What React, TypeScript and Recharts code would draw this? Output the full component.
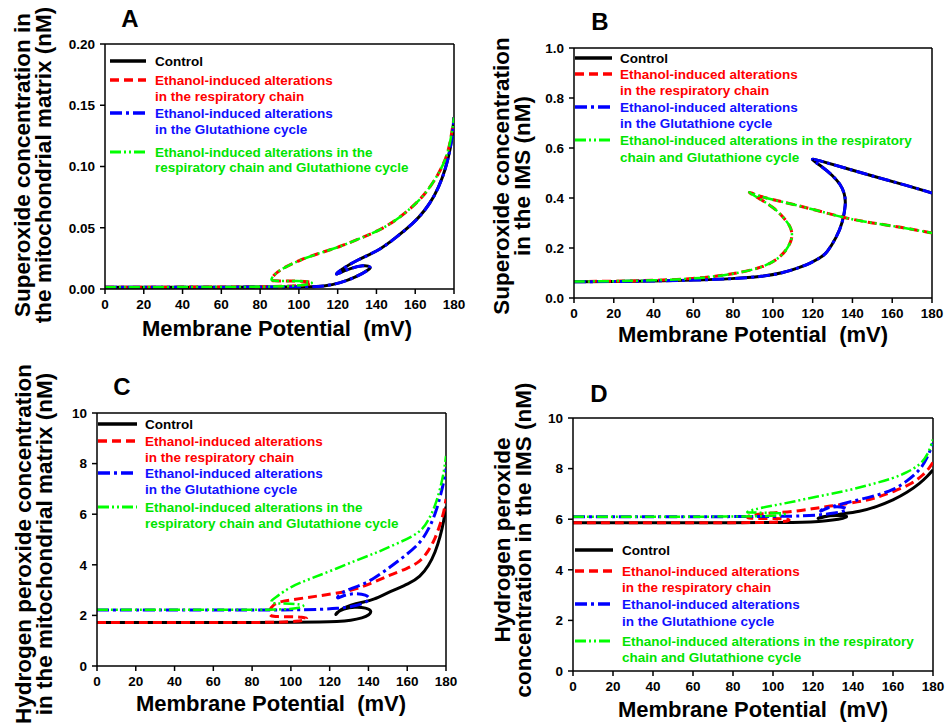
import React from 'react';
import { LineChart, Line, XAxis, YAxis, ReferenceLine } from 'recharts';

type P = [number, number];

const FONT = '"Liberation Sans", Arial, Helvetica, sans-serif';

const xTicks = [0, 20, 40, 60, 80, 100, 120, 140, 160, 180];
const aYTicks = [0, 0.05, 0.1, 0.15, 0.2];
const bYTicks = [0, 0.2, 0.4, 0.6, 0.8, 1.0];
const cYTicks = [0, 2, 4, 6, 8, 10];
const dYTicks = [0, 2, 4, 6, 8, 10];

// Panel A: superoxide in matrix
const aControl: P[] = [[0,0.0015],[30,0.0015],[60,0.0015],[90,0.0016],[105,0.0017],[112.7,0.0022],[121.3,0.0047],[129.9,0.010],[135.9,0.0155],[137.6,0.0182],[133.3,0.0196],[126.5,0.0169],[120.4,0.0128],[118.7,0.0114],[121.3,0.0155],[129.9,0.0237],[141.9,0.0318],[150.6,0.0427],[159.1,0.0536],[165,0.064],[170,0.076],[174,0.09],[177,0.106],[179,0.122],[180,0.14]];
const aRespiratory: P[] = [[0,0.0015],[30,0.0015],[60,0.0016],[85,0.0018],[98,0.0025],[104,0.0035],[107.5,0.0048],[105.5,0.006],[99,0.0066],[92,0.0066],[87,0.0065],[85.2,0.0073],[87.5,0.012],[90.3,0.0155],[95,0.0195],[100.6,0.0237],[110,0.029],[121.3,0.0345],[131,0.041],[141.9,0.048],[152,0.058],[162.6,0.0727],[168,0.084],[172,0.094],[175.5,0.105],[178,0.118],[180,0.14]];
const aGlutathione: P[] = aControl;
const aRespGluta: P[] = aRespiratory;

// Panel B: superoxide in IMS
const bControl: P[] = [[0,0.065],[20,0.066],[40,0.068],[60,0.071],[80,0.077],[95,0.086],[105,0.1],[112,0.118],[118.7,0.138],[124,0.162],[127,0.178],[132.1,0.244],[135,0.3],[136.8,0.378],[136,0.42],[134,0.455],[130,0.49],[125,0.525],[117.6,0.562],[124,0.548],[137.1,0.518],[150,0.488],[163.9,0.458],[180,0.42]];
const bRespiratory: P[] = [[0,0.066],[20,0.067],[40,0.07],[60,0.077],[76.8,0.091],[93.5,0.118],[101.9,0.151],[106.9,0.191],[109.4,0.231],[109.8,0.26],[108.6,0.29],[105,0.325],[100.2,0.364],[93,0.398],[85.6,0.434],[93.5,0.404],[105,0.385],[120,0.355],[137.1,0.318],[150,0.3],[163.9,0.284],[180,0.26]];
const bGlutathione: P[] = bControl;
const bRespGluta: P[] = bRespiratory;

// Panel C: H2O2 in matrix
const cControl: P[] = [[0,1.72],[40,1.72],[80,1.72],[105,1.73],[115,1.74],[124,1.76],[131,1.8],[137,1.9],[140.5,2.02],[141.8,2.18],[139,2.3],[133,2.34],[127,2.26],[123.5,2.12],[122.8,1.97],[125,2.22],[131,2.42],[137,2.52],[142.6,2.61],[151,2.94],[161,3.25],[166.7,3.53],[171,3.95],[174.5,4.5],[177,5.1],[178.8,5.7],[180,6.3]];
const cRespiratory: P[] = [[0,1.72],[40,1.72],[80,1.72],[95,1.73],[103,1.76],[107.5,1.82],[108.7,1.88],[106,1.93],[100,1.95],[93,1.95],[89.3,1.96],[88.5,2.15],[91,2.45],[95,2.55],[99.6,2.61],[108,2.7],[116.6,2.8],[130.6,2.95],[141,3.25],[151,3.6],[160,3.85],[166.7,4.12],[171,4.55],[174.5,5.05],[177,5.6],[179,6.1],[180,6.6]];
const cGlutathione: P[] = [[0,2.21],[40,2.21],[80,2.21],[105,2.22],[115,2.24],[124,2.27],[132,2.35],[138,2.48],[141,2.65],[139,2.82],[133,2.88],[127,2.8],[123.5,2.63],[124.5,2.8],[128,2.98],[134,3.13],[142,3.4],[151,3.9],[158,4.3],[166.7,4.85],[171,5.4],[174.5,6.0],[177,6.7],[179,7.3],[180,7.8]];
const cRespGluta: P[] = [[0,2.22],[40,2.22],[80,2.22],[95,2.23],[102,2.27],[106,2.33],[107,2.4],[103,2.45],[96,2.47],[89.3,2.48],[90,2.6],[92.7,2.74],[99.6,3.13],[110,3.45],[122,3.8],[134,4.19],[145,4.5],[155,4.85],[166.7,5.26],[171,5.75],[174.5,6.35],[177,7.0],[179,7.7],[180,8.3]];

// Panel D: H2O2 in IMS
const dControl: P[] = [[0,5.86],[40,5.86],[80,5.86],[105,5.87],[115,5.88],[123,5.91],[130,5.96],[135.5,6.04],[137.7,6.12],[134,6.16],[128,6.14],[123.5,6.08],[121.8,6.0],[125,6.1],[133,6.2],[143.5,6.3],[152,6.5],[160.2,6.76],[167,7.05],[173.5,7.42],[177.5,7.72],[180,7.95]];
const dRespiratory: P[] = [[0,5.86],[40,5.86],[80,5.86],[95,5.87],[103,5.89],[107.5,5.93],[108.7,5.98],[105,6.02],[98,6.03],[90,6.03],[86.5,6.06],[88,6.14],[92,6.2],[100,6.25],[110,6.3],[120,6.42],[127,6.5],[143.5,6.69],[152,6.85],[160.2,7.09],[170,7.42],[175,7.75],[178,8.0],[180,8.25]];
const dGlutathione: P[] = [[0,6.1],[40,6.1],[80,6.1],[105,6.11],[115,6.13],[124,6.17],[131,6.24],[136,6.33],[137.5,6.42],[134,6.5],[128,6.48],[124,6.38],[123.5,6.28],[126,6.42],[133,6.58],[143.5,6.78],[152,6.95],[160.2,7.15],[167,7.5],[173.5,7.94],[177,8.4],[180,9.0]];
const dRespGluta: P[] = [[0,6.1],[40,6.1],[80,6.1],[95,6.12],[103,6.15],[107,6.2],[104,6.24],[96,6.26],[89,6.26],[86,6.27],[90,6.38],[100,6.54],[110.2,6.69],[122,6.9],[135.2,7.09],[148,7.35],[160.2,7.62],[167,7.85],[173.5,8.14],[177.5,8.55],[180,9.15]];

const seriesNames = ['Control', 'Ethanol-induced alterations in the respiratory chain', 'Ethanol-induced alterations in the Glutathione cycle', 'Ethanol-induced alterations in the respiratory chain and Glutathione cycle'];

const STYLES = [
  { stroke: '#000000', text: '#000000', dash: undefined as string | undefined, width: 3 },
  { stroke: '#ff0000', text: '#ff0000', dash: '9 5', width: 3 },
  { stroke: '#0000ff', text: '#1010ff', dash: '12 4 3 4', width: 3 },
  { stroke: '#00ff00', text: '#00e400', dash: '11 3 2 3 2 3', width: 2.5 },
];

const legendShort = [['Control'], ['Ethanol-induced alterations', 'in the respiratory chain'], ['Ethanol-induced alterations', 'in the Glutathione cycle'], ['Ethanol-induced alterations in the', 'respiratory chain and Glutathione cycle']];
const legendWide = [['Control'], ['Ethanol-induced alterations', 'in the respiratory chain'], ['Ethanol-induced alterations', 'in the Glutathione cycle'], ['Ethanol-induced alterations in the respiratory', 'chain and Glutathione cycle']];

type PanelCfg = {
  box: { left: number; top: number; width: number; height: number };
  plot: { l: number; t: number; r: number; b: number };
  yDomain: [number, number];
  yTicks: number[];
  fmt: (v: number) => string;
  series: P[][];
};

const panels: PanelCfg[] = [
  { box: { left: 0, top: 0, width: 470, height: 330 }, plot: { l: 105, t: 44, r: 454, b: 289 }, yDomain: [0, 0.2], yTicks: aYTicks, fmt: (v) => v.toFixed(2), series: [aControl, aRespiratory, aGlutathione, aRespGluta] },
  { box: { left: 480, top: 0, width: 467, height: 340 }, plot: { l: 574, t: 48, r: 932, b: 298 }, yDomain: [0, 1], yTicks: bYTicks, fmt: (v) => v.toFixed(1), series: [bControl, bRespiratory, bGlutathione, bRespGluta] },
  { box: { left: 0, top: 380, width: 470, height: 330 }, plot: { l: 97, t: 413, r: 446, b: 666 }, yDomain: [0, 10], yTicks: cYTicks, fmt: (v) => String(v), series: [cControl, cRespiratory, cGlutathione, cRespGluta] },
  { box: { left: 480, top: 380, width: 467, height: 346 }, plot: { l: 573, t: 418, r: 933, b: 671 }, yDomain: [0, 10], yTicks: dYTicks, fmt: (v) => String(v), series: [dControl, dRespiratory, dGlutathione, dRespGluta] },
];

const tickStyle = { fill: '#000', fontSize: 13.5, fontWeight: 'bold' as const, fontFamily: FONT };
const axisStroke = { stroke: '#000', strokeWidth: 1.5 };

function Panel({ cfg }: { cfg: PanelCfg }) {
  const { box, plot } = cfg;
  const YW = 60;
  const XH = 30;
  const margin = {
    top: plot.t - box.top,
    left: plot.l - box.left - YW,
    right: box.left + box.width - plot.r,
    bottom: box.top + box.height - plot.b - XH,
  };
  return (
    <div style={{ position: 'absolute', left: box.left, top: box.top, width: box.width, height: box.height }}>
      <LineChart width={box.width} height={box.height} margin={margin}>
        <XAxis type="number" dataKey="x" domain={[0, 180]} ticks={xTicks} interval={0} allowDataOverflow height={XH}
          tickSize={5} tickMargin={5} axisLine={axisStroke} tickLine={axisStroke} tick={tickStyle} />
        <YAxis type="number" dataKey="y" domain={cfg.yDomain} ticks={cfg.yTicks} interval={0} allowDataOverflow width={YW}
          tickSize={5} tickMargin={5} axisLine={axisStroke} tickLine={axisStroke} tick={tickStyle} tickFormatter={cfg.fmt} />
        <ReferenceLine y={cfg.yDomain[1]} stroke="#000" strokeWidth={1.5} />
        <ReferenceLine x={180} stroke="#000" strokeWidth={1.5} />
        {cfg.series.map((pts, i) => (
          <Line key={i} name={seriesNames[i]} data={pts.map(([x, y]) => ({ x, y }))} dataKey="y" type="basis"
            stroke={STYLES[i].stroke} strokeWidth={STYLES[i].width} strokeDasharray={STYLES[i].dash}
            dot={false} activeDot={false} isAnimationActive={false} />
        ))}
      </LineChart>
    </div>
  );
}

type LegendPos = { x1: number; x2: number; tx: number; rows: number[][]; texts: string[][] };
const legends: LegendPos[] = [
  { x1: 110, x2: 146, tx: 155, rows: [[61], [80, 96], [113, 129], [152, 167]], texts: legendShort },
  { x1: 575, x2: 612, tx: 620, rows: [[58], [74, 90], [107, 123], [140, 157]], texts: legendWide },
  { x1: 98, x2: 137, tx: 145, rows: [[424], [441, 457], [473, 489], [507, 523]], texts: legendShort },
  { x1: 575, x2: 613, tx: 622, rows: [[550], [571, 587], [604, 621], [641, 657]], texts: legendWide },
];

const letters = [
  { t: 'A', x: 130, y: 27 },
  { t: 'B', x: 600, y: 30 },
  { t: 'C', x: 122, y: 395 },
  { t: 'D', x: 599, y: 402 },
];
const xTitles = [
  { x: 277, y: 336 },
  { x: 753, y: 342 },
  { x: 271, y: 711 },
  { x: 753, y: 717 },
];
const yTitles = [
  { lines: ['Superoxide concentration in', 'the mitochondrial matrix (nM)'], bx: [30, 51], cy: 165 },
  { lines: ['Superoxide concentration', 'in the IMS (nM)'], bx: [509, 530], cy: 176 },
  { lines: ['Hydrogen peroxide concentration', 'in the mitochondrial matrix (nM)'], bx: [31, 52], cy: 544 },
  { lines: ['Hydrogen peroxide', 'concentration in the IMS (nM)'], bx: [510, 531], cy: 540 },
];

function Overlay() {
  return (
    <svg width={947} height={726} style={{ position: 'absolute', left: 0, top: 0, pointerEvents: 'none' }} fontFamily={FONT} fontWeight="bold">
      {letters.map((l) => (
        <text key={l.t} x={l.x} y={l.y} fontSize={24} textAnchor="middle" fill="#000">{l.t}</text>
      ))}
      {xTitles.map((p, i) => (
        <text key={i} x={p.x} y={p.y} fontSize={22} textAnchor="middle" fill="#000" style={{ whiteSpace: 'pre' }}>{'Membrane Potential  (mV)'}</text>
      ))}
      {yTitles.map((t, i) => (
        <g key={i}>
          {t.lines.map((ln, j) => (
            <text key={j} x={t.bx[j]} y={t.cy} fontSize={22.5} textAnchor="middle" fill="#000"
              transform={`rotate(-90 ${t.bx[j]} ${t.cy})`}>{ln}</text>
          ))}
        </g>
      ))}
      {legends.map((lg, i) => (
        <g key={i}>
          {lg.rows.map((ys, k) => (
            <g key={k}>
              <line x1={lg.x1} x2={lg.x2} y1={ys[0]} y2={ys[0]} stroke={STYLES[k].stroke} strokeWidth={STYLES[k].width + 0.5} strokeDasharray={STYLES[k].dash} />
              {ys.map((yy, j) => (
                <text key={j} x={lg.tx} y={yy + 4.7} fontSize={13.5} fill={STYLES[k].text}>{lg.texts[k][j]}</text>
              ))}
            </g>
          ))}
        </g>
      ))}
    </svg>
  );
}

export default function App() {
  return (
    <div style={{ position: 'absolute', left: 0, top: 0, width: 947, height: 726, background: '#fff' }}>
      {panels.map((p, i) => (
        <Panel key={i} cfg={p} />
      ))}
      <Overlay />
    </div>
  );
}
